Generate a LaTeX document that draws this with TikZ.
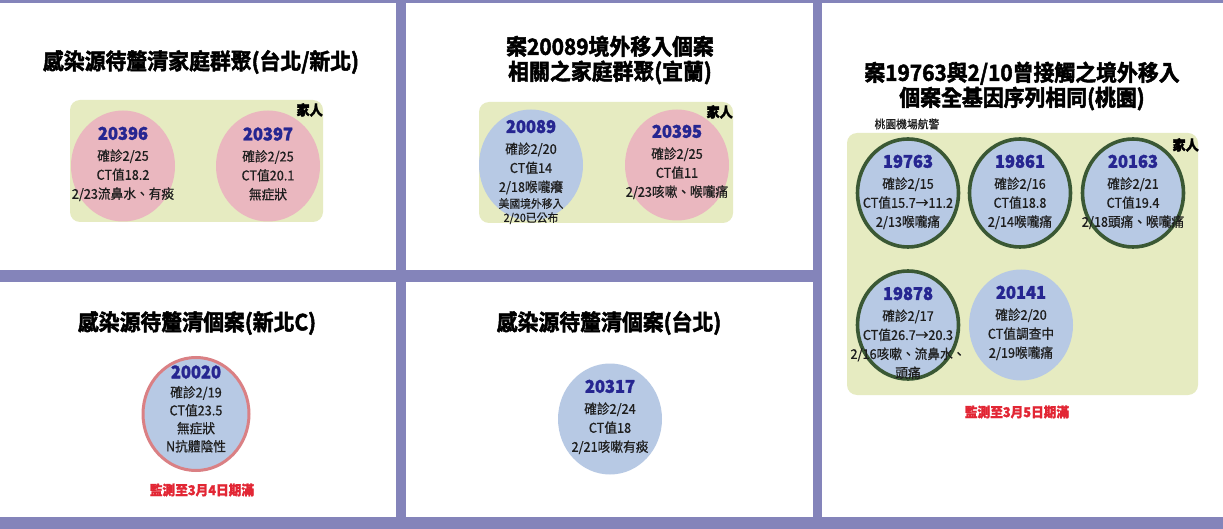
\documentclass[tikz,border=0pt]{standalone}
\usepackage{fontspec}
\setmainfont[FakeStretch=0.94, FakeBold=0.6, BoldFeatures={FakeBold=1.6}]{Noto Sans CJK TC}
\newfontfamily\titlefont[FakeStretch=0.94, FakeBold=2.2]{Noto Sans CJK TC Bold}
\usetikzlibrary{shapes.geometric}
\definecolor{framec}{RGB}{132,132,186}
\definecolor{famfill}{RGB}{230,235,193}
\definecolor{pinkc}{RGB}{234,183,191}
\definecolor{bluec}{RGB}{183,201,228}
\definecolor{greenb}{RGB}{58,88,52}
\definecolor{pinkb}{RGB}{218,128,132}
\definecolor{numblue}{RGB}{38,38,145}
\definecolor{alertred}{RGB}{226,38,52}
\definecolor{txtc}{RGB}{30,30,30}
\newcommand\cnum[1]{{\fontsize{17.5}{19}\selectfont\bfseries\color{numblue}#1}}
\tikzset{
  framebar/.style={fill=framec, draw=none},
  famrect/.style={fill=famfill, draw=none, rounded corners=10pt},
  caseov/.style={ellipse, minimum width=104pt, minimum height=111pt, inner sep=0pt},
  pinkcase/.style={caseov, fill=pinkc},
  bluecase/.style={caseov, fill=bluec},
  greencase/.style={caseov, fill=bluec, draw=greenb, line width=3.6pt, minimum width=101pt, minimum height=108pt},
  casetext/.style={align=center, text=txtc, inner sep=0pt, font=\fontsize{13.5}{19}\selectfont},
  title/.style={align=center, text=black, inner sep=0pt, font=\fontsize{22.2}{25}\titlefont},
  famlabel/.style={anchor=north east, inner sep=0pt, font=\fontsize{14}{16}\selectfont\bfseries},
  alert/.style={inner sep=0pt, text=alertred, font=\fontsize{13.5}{16}\selectfont\bfseries},
  smallnote/.style={inner sep=0pt, text=txtc, font=\fontsize{11.5}{14}\selectfont}
}
\begin{document}
\begin{tikzpicture}[x=1pt, y=-1pt]
\useasboundingbox (0,0) rectangle (1223,529);
\fill[white] (0,0) rectangle (1223,529);
% frame
\path[framebar] (0,0) rectangle (1223,3);
\path[framebar] (396,0) rectangle (406,529);
\path[framebar] (813,0) rectangle (822,529);
\path[framebar] (0,270) rectangle (817,282);
\path[framebar] (0,517) rectangle (1223,529);

% ---------- panel 1 ----------
\node[title] (t1) at (201,62) {感染源待釐清家庭群聚(台北/新北)};
\path[famrect] (70,100) rectangle (323,222);
\node[famlabel] (f1) at (323,103) {家人};
\node[pinkcase] (c20396) at (123,166) {};
\node[pinkcase] (c20397) at (268,166) {};
\node[casetext] (x20396) at (123,164) {\cnum{20396}\\[2pt]確診2/25\\CT值18.2\\2/23流鼻水、有痰};
\node[casetext] (x20397) at (268,164) {\cnum{20397}\\[2pt]確診2/25\\CT值20.1\\無症狀};

% ---------- panel 2 ----------
\node[title] (t2) at (610,60) {案20089境外移入個案\\相關之家庭群聚(宜蘭)};
\path[famrect] (479,102) rectangle (733,223);
\node[famlabel] (f2) at (733,105) {家人};
\node[bluecase] (c20089) at (531,165) {};
\node[pinkcase] (c20395) at (677,165) {};
\node[casetext] (x20089) at (531,172) {\cnum{20089}\\[2pt]確診2/20\\CT值14\\2/18喉嚨癢\\[-3pt]{\fontsize{11.5}{13}\selectfont 美國境外移入}\\[-5pt]{\fontsize{11.5}{13}\selectfont 2/20已公布}};
\node[casetext] (x20395) at (677,162) {\cnum{20395}\\[2pt]確診2/25\\CT值11\\2/23咳嗽、喉嚨痛};

% ---------- panel 3 ----------
\node[title] (t3) at (1022,86) {案19763與2/10曾接觸之境外移入\\個案全基因序列相同(桃園)};
\node[smallnote] (n3) at (907,124) {桃園機場航警};
\path[famrect] (847,133) rectangle (1198,395);
\node[famlabel] (f3) at (1199,138) {家人};
\node[greencase] (c19763) at (908,193) {};
\node[greencase] (c19861) at (1020,193) {};
\node[greencase] (c20163) at (1133,193) {};
\node[greencase] (c19878) at (908,325) {};
\node[bluecase] (c20141) at (1021,325) {};
\node[casetext] (x19763) at (908,192) {\cnum{19763}\\[2pt]確診2/15\\CT值15.7→11.2\\2/13喉嚨痛};
\node[casetext] (x19861) at (1020,192) {\cnum{19861}\\[2pt]確診2/16\\CT值18.8\\2/14喉嚨痛};
\node[casetext] (x20163) at (1133,192) {\cnum{20163}\\[2pt]確診2/21\\CT值19.4\\2/18頭痛、喉嚨痛};
\node[casetext] (x19878) at (908,333) {\cnum{19878}\\[2pt]確診2/17\\CT值26.7→20.3\\2/16咳嗽、流鼻水、\\頭痛};
\node[casetext] (x20141) at (1021,323) {\cnum{20141}\\[2pt]確診2/20\\CT值調查中\\2/19喉嚨痛};
\node[alert] (a3) at (1017,412) {監測至3月5日期滿};

% ---------- panel 4 ----------
\node[title] (t4) at (197,323) {感染源待釐清個案(新北C)};
\node[bluecase, draw=pinkb, line width=3pt, minimum width=106pt, minimum height=113pt] (c20020) at (196,414) {};
\node[casetext] (x20020) at (196,409) {\cnum{20020}\\確診2/19\\[-1pt]CT值23.5\\[-1pt]無症狀\\[-1pt]N抗體陰性};
\node[alert] (a4) at (202,490) {監測至3月4日期滿};

% ---------- panel 5 ----------
\node[title] (t5) at (609,323) {感染源待釐清個案(台北)};
\node[bluecase] (c20317) at (610,419) {};
\node[casetext] (x20317) at (610,417) {\cnum{20317}\\[2pt]確診2/24\\CT值18\\2/21咳嗽有痰};
\end{tikzpicture}
\end{document}
